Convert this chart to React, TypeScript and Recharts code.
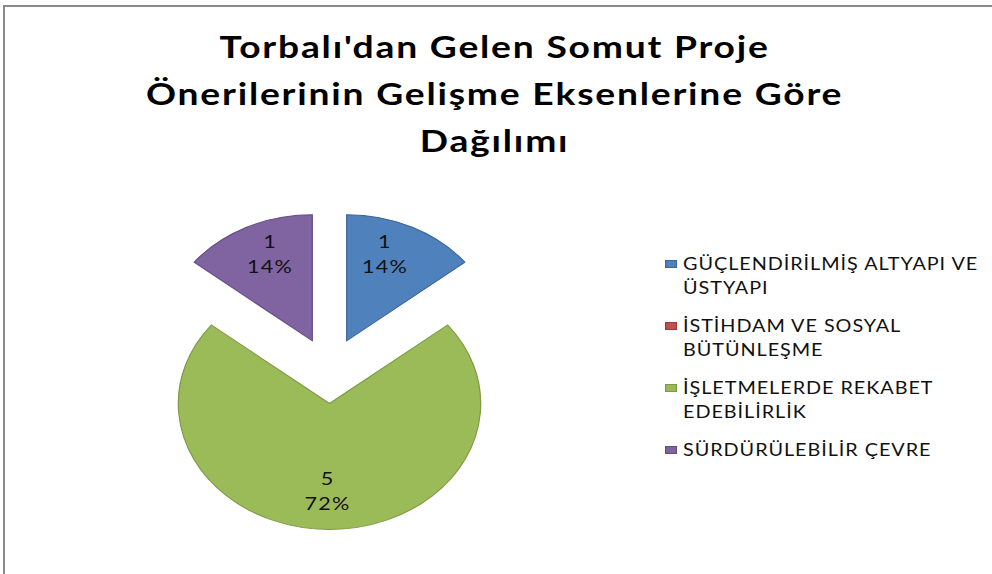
import React from 'react';
import { PieChart, Pie, Cell, Sector, Legend } from 'recharts';

const categories = [
    'GÜÇLENDİRİLMİŞ ALTYAPI VE ÜSTYAPI',
    'İSTİHDAM VE SOSYAL BÜTÜNLEŞME',
    'İŞLETMELERDE REKABET EDEBİLİRLİK',
    'SÜRDÜRÜLEBİLİR ÇEVRE',
];
const values = [1, 0, 5, 1];
const percentLabels = ['14%', '0%', '72%', '14%'];
const colors = ['#4F81BD', '#C0504D', '#9BBB59', '#8064A2'];
const strokes = ['#3A6599', '#9A3B38', '#7E9A44', '#634C82'];

const titleLines = [
    "Torbalı'dan Gelen Somut Proje",
    'Önerilerinin Gelişme Eksenlerine Göre',
    'Dağılımı',
];

const data = categories.map((name, i) => ({ name, value: values[i], pct: percentLabels[i] }));

const RAD = Math.PI / 180;
const EXPLODE = 33;
// the original picture is stretched sideways
const SX = 1.2;

function stretch(cx: number) {
    return `translate(${cx} 0) scale(${SX} 1) translate(${-cx} 0)`;
}

function ExplodedSector(props: any) {
    const { cx, cy, midAngle } = props;
    const dx = EXPLODE * Math.cos(-midAngle * RAD);
    const dy = EXPLODE * Math.sin(-midAngle * RAD);
    return (
        <g transform={stretch(cx)}>
            <Sector {...props} cx={cx + dx} cy={cy + dy} />
        </g>
    );
}

function SliceLabel(props: any) {
    const { cx, cy, midAngle, outerRadius, index } = props;
    const item = data[index];
    if (!item || item.value === 0) return null;
    const r = EXPLODE + outerRadius * 0.73;
    const x = cx - 2 + 1.06 * r * Math.cos(-midAngle * RAD);
    const y = cy + r * Math.sin(-midAngle * RAD);
    return (
        <g transform={`translate(${x} ${y}) scale(${SX} 1)`}>
            <text x={0} y={0} textAnchor="middle" fill="#111" fontSize={18} letterSpacing={1} fontFamily="Lato, sans-serif">
                <tspan x={0} dy={-10}>{item.value}</tspan>
                <tspan x={0} dy={25}>{item.pct}</tspan>
            </text>
        </g>
    );
}

function LegendBox() {
    return (
        <div
            style={{
                width: 262,
                fontFamily: 'Lato, sans-serif',
                fontSize: 16.5,
                letterSpacing: 0.8,
                color: '#111',
                transform: `scaleX(${SX})`,
                transformOrigin: '0 0',
            }}
        >
            {data.map((d, i) => (
                <div key={d.name} style={{ position: 'relative', paddingLeft: 15, lineHeight: '23.5px', marginBottom: 15 }}>
                    <span
                        style={{
                            position: 'absolute',
                            left: 0,
                            top: 7,
                            width: 10,
                            height: 8,
                            background: colors[i],
                            border: `1px solid ${strokes[i]}`,
                            boxSizing: 'border-box',
                        }}
                    />
                    {d.name}
                </div>
            ))}
        </div>
    );
}

export default function App() {
    return (
        <div style={{ position: 'absolute', left: 0, top: 0, width: 992, height: 574, background: '#fff', overflow: 'hidden' }}>
            <div
                style={{
                    position: 'absolute',
                    left: 0,
                    top: 23,
                    width: 992,
                    textAlign: 'center',
                    fontFamily: 'Lato, sans-serif',
                    fontWeight: 700,
                    fontSize: 31,
                    letterSpacing: 1.5,
                    lineHeight: '47px',
                    color: '#000',
                    transform: `scaleX(${SX})`,
                    transformOrigin: '503px 0',
                }}
            >
                {titleLines.map((l) => (
                    <div key={l}>{l}</div>
                ))}
            </div>
            <div style={{ position: 'absolute', left: 0, top: 0 }}>
                <PieChart width={992} height={574} margin={{ top: 0, right: 0, bottom: 0, left: 0 }}>
                    <Pie
                        data={data}
                        dataKey="value"
                        nameKey="name"
                        cx={329.5}
                        cy={370.5}
                        outerRadius={126}
                        startAngle={90}
                        endAngle={-270}
                        shape={ExplodedSector}
                        label={SliceLabel}
                        labelLine={false}
                        isAnimationActive={false}
                    >
                        {data.map((d, i) => (
                            <Cell key={d.name} fill={colors[i]} stroke={strokes[i]} strokeWidth={1} />
                        ))}
                    </Pie>
                    <Legend
                        layout="vertical"
                        content={<LegendBox />}
                        wrapperStyle={{ position: 'absolute', left: 665, top: 253, width: 330 }}
                    />
                </PieChart>
            </div>
            <div style={{ position: 'absolute', left: 3, top: 5, width: 989, height: 2, background: '#8a8a8a' }} />
            <div style={{ position: 'absolute', left: 3, top: 5, width: 2, height: 569, background: '#8a8a8a' }} />
        </div>
    );
}
